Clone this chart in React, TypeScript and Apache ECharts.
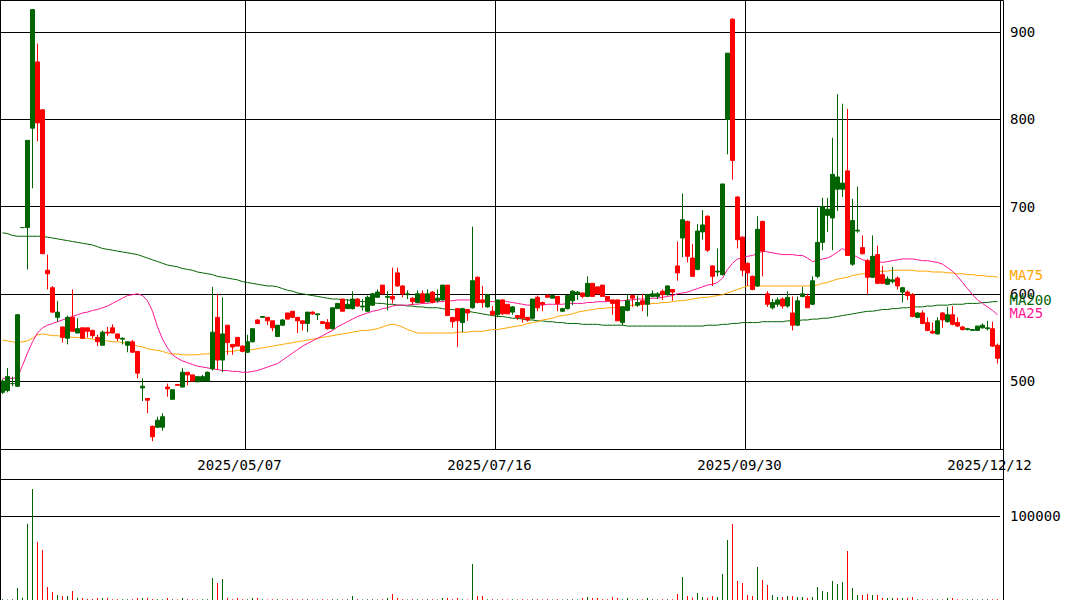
import React, { useEffect, useRef } from "react";
import * as echarts from "echarts";

// Trading days (Tokyo), month -> days
const MONTH_DAYS: [string, number[]][] = [
  ["2025/02", [20, 21, 25, 26, 27, 28]],
  ["2025/03", [3, 4, 5, 6, 7, 10, 11, 12, 13, 14, 17, 18, 19, 21, 24, 25, 26, 27, 28, 31]],
  ["2025/04", [1, 2, 3, 4, 7, 8, 9, 10, 11, 14, 15, 16, 17, 18, 21, 22, 23, 24, 25, 28, 30]],
  ["2025/05", [1, 2, 7, 8, 9, 12, 13, 14, 15, 16, 19, 20, 21, 22, 23, 26, 27, 28, 29, 30]],
  ["2025/06", [2, 3, 4, 5, 6, 9, 10, 11, 12, 13, 16, 17, 18, 19, 20, 23, 24, 25, 26, 27, 30]],
  ["2025/07", [1, 2, 3, 4, 7, 8, 9, 10, 11, 14, 15, 16, 17, 18, 22, 23, 24, 25, 28, 29, 30, 31]],
  ["2025/08", [1, 4, 5, 6, 7, 8, 12, 13, 14, 15, 18, 19, 20, 21, 22, 25, 26, 27, 28, 29]],
  ["2025/09", [1, 2, 3, 4, 5, 8, 9, 10, 11, 12, 16, 17, 18, 19, 22, 24, 25, 26, 29, 30]],
  ["2025/10", [1, 2, 3, 6, 7, 8, 9, 10, 14, 15, 16, 17, 20, 21, 22, 23, 24, 27, 28, 29, 30, 31]],
  ["2025/11", [4, 5, 6, 7, 10, 11, 12, 13, 14, 17, 18, 19, 20, 21, 25, 26, 27, 28]],
  ["2025/12", [1, 2, 3, 4, 5, 8, 9, 10, 11, 12]],
];
const DATES: string[] = MONTH_DAYS.flatMap(([m, ds]) =>
  ds.map((d) => `${m}/${String(d).padStart(2, "0")}`)
);
const LABEL_DATES = ["2025/05/07", "2025/07/16", "2025/09/30", "2025/12/12"];
const GRID_DATES = ["2025/05/07", "2025/07/16", "2025/09/30"];

const OPEN = [
  487, 489, 497, 494, 676, 676, 790, 866, 811, 627,
  607, 573, 562, 549, 573, 555, 561, 561, 558, 550,
  541, 556, 561, 554, 548, 541, 545, 534, 492, 480,
  448, 447, 447, 493, 479, 496, 493, 510, 507, 499,
  500, 500, 514, 573, 524, 564, 542, 550, 540, 533,
  545, 570, 573, 573, 569, 551, 564, 578, 580, 573,
  569, 566, 579, 576, 568, 567, 560, 583, 594, 583,
  583, 594, 585, 580, 587, 596, 610, 596, 597, 624,
  609, 599, 595, 590, 600, 591, 602, 592, 593, 610,
  573, 583, 567, 582, 584, 619, 593, 585, 580, 576,
  593, 588, 579, 575, 583, 573, 572, 596, 590, 598,
  595, 597, 580, 583, 592, 600, 601, 597, 612, 608,
  610, 597, 593, 593, 567, 581, 598, 587, 592, 588,
  597, 597, 603, 599, 605, 632, 664, 683, 641, 628,
  671, 689, 632, 625, 622, 800, 915, 711, 665, 635,
  620, 609, 683, 600, 584, 588, 594, 586, 578, 564,
  597, 597, 588, 620, 659, 690, 687, 720, 720, 741,
  634, 672, 653, 638, 619, 645, 622, 611, 614, 618,
  602, 602, 599, 573, 578, 567, 557, 554, 578, 568,
  576, 567, 562, 559, 558, 558, 561, 560, 560, 541,
];
const CLOSE = [
  500, 505, 497, 576, 676, 776, 926, 796, 646, 623,
  579, 579, 550, 573, 557, 560, 549, 557, 552, 545,
  556, 555, 555, 549, 549, 545, 533, 509, 494, 478,
  436, 455, 459, 491, 490, 495, 510, 507, 500, 505,
  505, 510, 556, 524, 554, 544, 539, 540, 534, 545,
  560, 566, 574, 569, 561, 564, 570, 571, 573, 569,
  566, 579, 577, 577, 566, 560, 584, 589, 580, 588,
  594, 586, 586, 596, 600, 602, 600, 597, 594, 609,
  600, 600, 591, 600, 590, 600, 590, 595, 610, 575,
  568, 569, 583, 578, 615, 590, 590, 599, 576, 593,
  577, 577, 585, 573, 572, 570, 594, 584, 588, 596,
  598, 589, 583, 598, 603, 602, 597, 612, 597, 600,
  597, 592, 589, 569, 585, 592, 595, 590, 588, 599,
  600, 600, 599, 609, 602, 624, 685, 643, 620, 672,
  679, 650, 620, 626, 726, 876, 753, 662, 627, 624,
  605, 674, 649, 588, 590, 593, 586, 596, 564, 592,
  600, 584, 615, 659, 700, 697, 737, 734, 727, 644,
  684, 673, 646, 619, 643, 612, 612, 617, 616, 609,
  607, 598, 574, 578, 566, 558, 555, 569, 570, 576,
  565, 563, 559, 560, 559, 563, 564, 561, 540, 526,
];
const LOW = [
  485, 487, 494, 493, 676, 628, 721, 775, 646, 605,
  578, 568, 544, 542, 557, 555, 549, 550, 549, 540,
  541, 552, 555, 546, 542, 533, 533, 503, 477, 463,
  431, 446, 443, 482, 479, 495, 493, 495, 500, 499,
  500, 500, 512, 513, 510, 530, 530, 540, 533, 532,
  544, 565, 573, 564, 557, 551, 563, 571, 572, 555,
  558, 556, 576, 570, 566, 559, 559, 583, 580, 583,
  582, 585, 581, 579, 586, 596, 600, 581, 589, 608,
  596, 594, 587, 589, 589, 590, 589, 590, 592, 575,
  561, 539, 556, 569, 583, 589, 584, 584, 575, 573,
  576, 577, 576, 570, 567, 568, 571, 580, 580, 596,
  595, 580, 579, 582, 587, 593, 595, 596, 597, 600,
  597, 592, 576, 569, 564, 580, 585, 585, 580, 574,
  596, 594, 593, 598, 592, 615, 642, 636, 620, 627,
  662, 648, 609, 620, 621, 760, 731, 652, 620, 609,
  604, 608, 620, 585, 582, 585, 583, 584, 558, 563,
  596, 584, 587, 618, 650, 671, 650, 695, 711, 644,
  632, 670, 645, 599, 618, 611, 611, 610, 612, 605,
  590, 593, 573, 572, 565, 557, 554, 553, 561, 567,
  564, 562, 558, 558, 558, 558, 560, 558, 539, 520,
];
const HIGH = [
  502, 515, 505, 577, 676, 776, 926, 887, 812, 645,
  609, 592, 562, 575, 605, 572, 561, 561, 559, 553,
  558, 562, 565, 554, 550, 545, 547, 534, 503, 480,
  449, 459, 463, 497, 490, 496, 515, 510, 507, 505,
  507, 511, 608, 600, 596, 564, 542, 550, 541, 553,
  560, 571, 574, 573, 569, 564, 571, 578, 580, 573,
  569, 579, 580, 577, 568, 571, 584, 589, 594, 594,
  603, 595, 594, 598, 601, 605, 610, 603, 630, 630,
  610, 604, 596, 604, 604, 605, 603, 605, 610, 610,
  573, 583, 584, 582, 677, 620, 609, 600, 586, 593,
  594, 588, 586, 575, 583, 573, 594, 598, 591, 600,
  598, 597, 584, 598, 604, 603, 601, 620, 612, 608,
  610, 597, 593, 593, 586, 600, 598, 598, 600, 600,
  604, 602, 605, 610, 605, 660, 715, 684, 657, 680,
  696, 690, 633, 652, 726, 876, 916, 712, 666, 636,
  621, 689, 684, 603, 594, 596, 596, 603, 597, 597,
  608, 600, 620, 699, 710, 710, 779, 829, 818, 812,
  709, 723, 667, 640, 667, 655, 632, 620, 631, 620,
  608, 604, 601, 579, 581, 573, 567, 573, 579, 585,
  586, 573, 563, 561, 559, 563, 566, 569, 568, 543,
];
const VOLUME = [
  800, 700, 900, 14300, 2700, 90800, 132000, 69000, 59500, 15500,
  9500, 6000, 4800, 4800, 10700, 2700, 2400, 1200, 1200, 2400,
  2400, 2400, 1000, 800, 900, 800, 900, 2400, 2400, 2400,
  1200, 900, 1000, 2400, 800, 700, 2400, 900, 800, 700,
  900, 1000, 26200, 20200, 25000, 2400, 1000, 2400, 900, 1000,
  2400, 2400, 800, 700, 900, 800, 700, 900, 800, 700,
  800, 900, 700, 600, 800, 700, 900, 800, 700, 800,
  4800, 900, 700, 800, 900, 700, 800, 2400, 7100, 2400,
  800, 700, 900, 800, 700, 800, 900, 700, 2400, 2400,
  800, 2400, 900, 700, 42800, 4800, 4800, 900, 800, 700,
  800, 700, 900, 600, 800, 700, 900, 800, 700, 800,
  700, 800, 600, 900, 800, 700, 2400, 3600, 2400, 2400,
  800, 900, 3600, 2400, 800, 2400, 700, 800, 900, 2400,
  800, 700, 900, 800, 900, 7100, 27400, 4800, 2800, 8300,
  3600, 2400, 4800, 3600, 30900, 71400, 90400, 22600, 20200, 6000,
  4800, 39300, 23800, 17900, 6000, 3600, 3600, 4800, 4800, 3600,
  3600, 2400, 3600, 15500, 10700, 9500, 22600, 19000, 21400, 58300,
  14300, 6000, 6000, 7100, 6000, 6000, 2400, 2400, 2400, 2400,
  2400, 2400, 3600, 900, 800, 700, 900, 800, 700, 2400,
  2400, 800, 700, 800, 900, 700, 900, 800, 900, 1000,
];
const MA25 = [
  503, 503, 503, 504, 518, 532, 545, 555, 561, 564,
  566, 568, 570, 572, 574, 576, 578, 579, 581, 582,
  584, 586, 589, 592, 595, 598, 599, 600, 598, 592,
  580, 562, 548, 538, 530, 526, 523, 521, 519, 517,
  516, 515, 514, 513, 512, 512, 511, 511, 510, 510,
  511, 512, 514, 516, 518, 520, 524, 528, 532, 536,
  540, 543, 546, 549, 552, 555, 558, 562, 565, 568,
  571, 574, 576, 578, 580, 581, 583, 584, 586, 587,
  587, 587, 588, 588, 589, 589, 590, 591, 591, 592,
  592, 593, 593, 593, 593, 593, 592, 592, 591, 591,
  592, 591, 590, 589, 588, 587, 587, 587, 587, 588,
  588, 588, 588, 589, 589, 589, 589, 590, 590, 591,
  591, 591, 592, 592, 592, 593, 593, 594, 594, 594,
  595, 595, 596, 597, 598, 600, 601, 602, 604, 606,
  608, 610, 611, 613, 618, 628, 635, 640, 641, 643,
  644, 646, 649, 648, 647, 646, 645, 645, 645, 644,
  644, 641, 637, 638, 640, 641, 644, 648, 652, 648,
  645, 642, 639, 638, 637, 637, 636, 637, 638, 639,
  640, 640, 640, 639, 638, 638, 637, 636, 634, 630,
  626, 620, 613, 606, 599, 593, 589, 585, 581, 576,
];
const MA75 = [
  547, 546, 545, 544, 545, 546, 549, 553, 554, 553,
  552, 552, 551, 551, 550, 550, 549, 549, 548, 547,
  546, 546, 545, 545, 544, 543, 542, 540, 539, 537,
  536, 535, 534, 532, 531, 531, 530, 530, 530, 530,
  531, 531, 532, 533, 533, 534, 534, 535, 536, 536,
  536, 537, 538, 539, 540, 541, 542, 543, 544, 545,
  546, 547, 548, 549, 550, 551, 552, 553, 554, 555,
  556, 557, 558, 558, 559, 560, 562, 564, 565, 564,
  562, 559, 557, 555, 555, 555, 555, 555, 555, 555,
  555, 556, 556, 556, 557, 557, 557, 558, 559, 559,
  560, 561, 562, 563, 564, 566, 567, 568, 570, 571,
  572, 574, 575, 576, 577, 579, 580, 581, 582, 583,
  583, 584, 584, 585, 585, 586, 587, 587, 588, 588,
  589, 589, 590, 590, 591, 592, 592, 593, 594, 595,
  596, 596, 597, 598, 599, 601, 603, 605, 607, 609,
  609, 609, 609, 609, 609, 609, 609, 609, 609, 609,
  609, 609, 609, 610, 612, 613, 615, 617, 618, 619,
  621, 622, 623, 623, 624, 625, 626, 626, 627, 627,
  627, 627, 627, 626, 626, 626, 625, 625, 625, 624,
  624, 623, 623, 622, 622, 621, 621, 620, 620, 619,
];
const MA200 = [
  670, 669, 667, 666, 666, 666, 666, 666, 666, 665,
  664, 663, 662, 661, 660, 659, 658, 657, 656, 654,
  652, 651, 650, 649, 648, 647, 646, 645, 643, 641,
  639, 637, 635, 633, 632, 631, 629, 628, 627, 625,
  624, 623, 622, 620, 619, 618, 617, 616, 614, 613,
  612, 611, 610, 609, 609, 608, 606, 604, 603, 601,
  600, 599, 598, 597, 596, 595, 594, 594, 593, 593,
  592, 592, 591, 591, 590, 589, 589, 588, 588, 587,
  587, 586, 586, 585, 585, 584, 584, 584, 583, 582,
  582, 581, 580, 580, 579, 578, 577, 576, 575, 574,
  574, 573, 572, 572, 571, 570, 570, 569, 569, 568,
  568, 567, 567, 566, 566, 566, 565, 565, 565, 565,
  564, 564, 564, 564, 564, 563, 563, 563, 563, 563,
  563, 563, 563, 563, 563, 563, 563, 563, 563, 563,
  563, 564, 564, 564, 565, 565, 566, 566, 567, 567,
  567, 567, 568, 568, 568, 568, 568, 569, 569, 569,
  570, 570, 571, 571, 572, 572, 573, 574, 575, 576,
  577, 578, 579, 580, 580, 581, 582, 582, 583, 583,
  584, 584, 585, 585, 585, 586, 586, 587, 587, 587,
  588, 588, 588, 589, 589, 589, 590, 590, 591, 591,
];

const PRICE_MIN = 422;
const PRICE_MAX = 937;
const VOL_MAX = 144048;
const VOL_TICK = 100000;

const UP = "#006400";
const DOWN = "#ff0000";
const C_MA25 = "#ff1493";
const C_MA75 = "#ffa500";
const C_MA200 = "#006400";
const FONT = "DejaVu Sans Mono";

export default function App() {
  const ref = useRef<HTMLDivElement>(null);
  useEffect(() => {
    if (!ref.current) return;
    const chart = echarts.init(ref.current, null, { renderer: "svg" });
    const candleData = OPEN.map((o, i) => [o, CLOSE[i], LOW[i], HIGH[i]]);
    const volData = VOLUME.map((v, i) => ({
      value: v,
      itemStyle: { color: CLOSE[i] >= OPEN[i] ? UP : DOWN },
    }));
    const labelIdx = new Set(LABEL_DATES.map((d) => DATES.indexOf(d)));
    const gridIdx = new Set(GRID_DATES.map((d) => DATES.indexOf(d)));
    const maLine = (name: string, data: number[], color: string) => ({
      type: "line",
      name,
      xAxisIndex: 0,
      yAxisIndex: 0,
      data,
      symbol: "none",
      silent: true,
      z: 2,
      lineStyle: { color, width: 1 },
      emphasis: { disabled: true },
      endLabel: {
        show: true,
        formatter: name,
        color,
        fontFamily: FONT,
        fontSize: 14,
        distance: 12,
        offset: [0, -2],
      },
    });
    chart.setOption({
      animation: false,
      backgroundColor: "#ffffff",
      grid: [
        { left: 0, top: 0, width: 1000, height: 449 },
        { left: 0, top: 479, width: 1000, height: 121 },
      ],
      xAxis: [
        {
          type: "category",
          gridIndex: 0,
          data: DATES,
          boundaryGap: true,
          axisLine: { show: false },
          axisTick: { show: false },
          axisLabel: {
            interval: (i: number) => labelIdx.has(i),
            margin: 9,
            fontFamily: FONT,
            fontSize: 14,
            color: "#000",
            padding: [0, 16, 0, 0],
          },
          splitLine: {
            show: true,
            interval: (i: number) => gridIdx.has(i),
            lineStyle: { color: "#000", width: 1 },
          },
        },
        {
          type: "category",
          gridIndex: 1,
          data: DATES,
          boundaryGap: true,
          axisLine: { show: false },
          axisTick: { show: false },
          axisLabel: { show: false },
          splitLine: { show: false },
        },
      ],
      yAxis: [
        {
          type: "value",
          gridIndex: 0,
          position: "right",
          min: PRICE_MIN,
          max: PRICE_MAX,
          splitNumber: 5,
          axisLine: { show: false },
          axisTick: { show: false },
          splitLine: { show: true, lineStyle: { color: "#000", width: 1 } },
          axisLabel: {
            showMinLabel: false,
            showMaxLabel: false,
            margin: 10,
            fontFamily: FONT,
            fontSize: 14,
            color: "#000",
          },
        },
        {
          type: "value",
          gridIndex: 1,
          position: "right",
          min: 0,
          max: VOL_MAX,
          interval: VOL_TICK,
          axisLine: { show: false },
          axisTick: { show: false },
          splitLine: { show: true, lineStyle: { color: "#000", width: 1 } },
          axisLabel: {
            showMinLabel: false,
            showMaxLabel: false,
            margin: 10,
            fontFamily: FONT,
            fontSize: 14,
            color: "#000",
            formatter: (v: number) => (v === VOL_TICK ? String(VOL_TICK) : ""),
          },
        },
      ],
      series: [
        maLine("MA200", MA200, C_MA200),
        maLine("MA75", MA75, C_MA75),
        maLine("MA25", MA25, C_MA25),
        {
          type: "candlestick",
          xAxisIndex: 0,
          yAxisIndex: 0,
          data: candleData,
          barWidth: 4,
          silent: true,
          z: 3,
          itemStyle: {
            color: UP,
            color0: DOWN,
            borderColor: UP,
            borderColor0: DOWN,
            borderColorDoji: UP,
            borderWidth: 1,
          },
        },
        {
          type: "bar",
          xAxisIndex: 1,
          yAxisIndex: 1,
          data: volData,
          barWidth: 1,
          silent: true,
        },
      ],
      graphic: [
        {
          type: "rect",
          silent: true,
          z: 100,
          shape: { x: 0.5, y: 0.5, width: 1003, height: 449 },
          style: { fill: "none", stroke: "#000", lineWidth: 1 },
        },
        {
          type: "line",
          silent: true,
          z: 100,
          shape: { x1: 0.5, y1: 449.5, x2: 0.5, y2: 600 },
          style: { stroke: "#000", lineWidth: 1 },
        },
        {
          type: "line",
          silent: true,
          z: 100,
          shape: { x1: 1003.5, y1: 449.5, x2: 1003.5, y2: 600 },
          style: { stroke: "#000", lineWidth: 1 },
        },
        {
          type: "line",
          silent: true,
          z: 100,
          shape: { x1: 0, y1: 479.5, x2: 1004, y2: 479.5 },
          style: { stroke: "#000", lineWidth: 1 },
        },
      ],
    });
    return () => chart.dispose();
  }, []);
  return (
    <div
      ref={ref}
      style={{ position: "fixed", left: 0, top: 0, width: 1065, height: 600 }}
    />
  );
}
